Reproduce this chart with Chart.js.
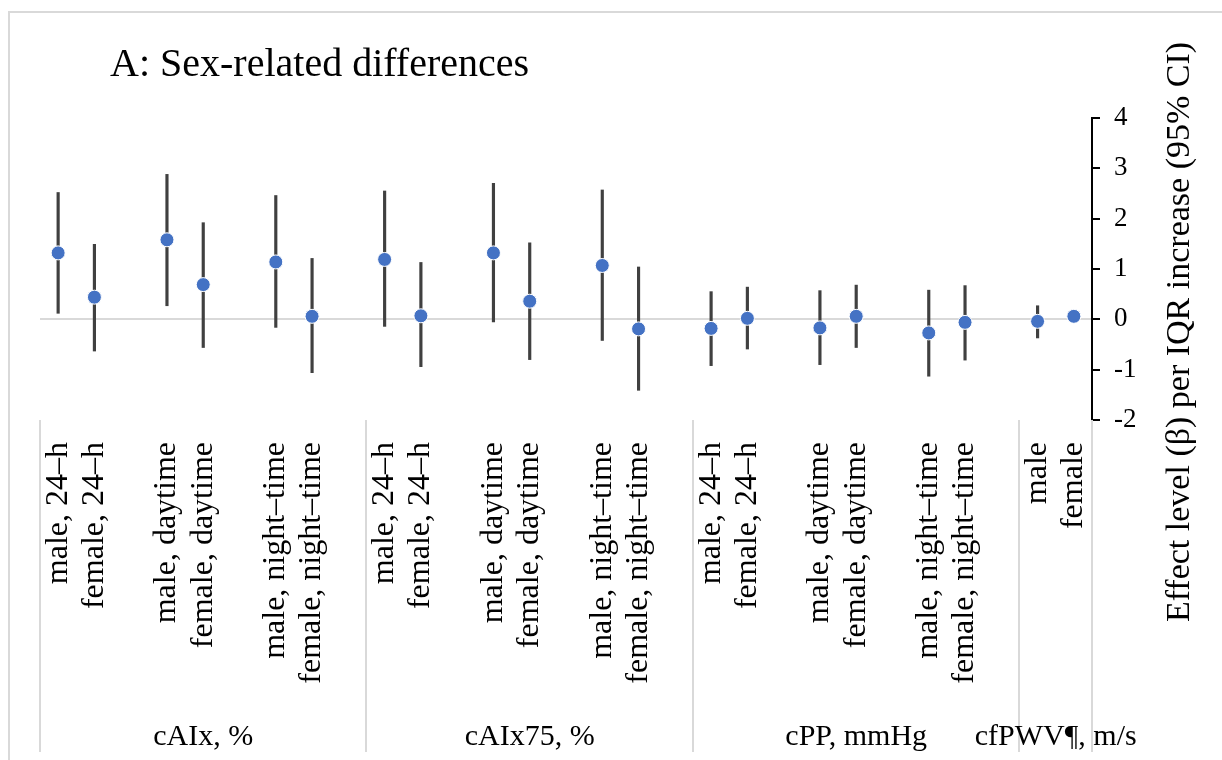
<!DOCTYPE html>
<html>
<head>
<meta charset="utf-8">
<script src="https://cdn.jsdelivr.net/npm/chart.js@4/dist/chart.umd.min.js"></script>
<style>
  html, body { margin: 0; padding: 0; background: #fff; }
  #wrap { position: relative; width: 1222px; height: 760px; }
</style>
</head>
<body>
<div id="wrap"><canvas id="forest"></canvas></div>
<script>
// categories (blank slots keep the gaps between the sub-groups)
const categories = [
    'male, 24–h', 'female, 24–h', '',
    'male, daytime', 'female, daytime', '',
    'male, night–time', 'female, night–time', '',
    'male, 24–h', 'female, 24–h', '',
    'male, daytime', 'female, daytime', '',
    'male, night–time', 'female, night–time', '',
    'male, 24–h', 'female, 24–h', '',
    'male, daytime', 'female, daytime', '',
    'male, night–time', 'female, night–time', '',
    'male', 'female'
];

// effect estimates (β) and 95% CI bounds
const beta = [
    1.32, 0.44, null, 1.58, 0.69, null, 1.14, 0.06, null,
    1.19, 0.07, null, 1.32, 0.36, null, 1.07, -0.19, null,
    -0.18, 0.02, null, -0.17, 0.06, null, -0.27, -0.06, null,
    -0.04, 0.06
];
const ciLow = [
    0.12, -0.63, null, 0.27, -0.56, null, -0.16, -1.06, null,
    -0.14, -0.94, null, -0.05, -0.80, null, -0.42, -1.41, null,
    -0.92, -0.59, null, -0.90, -0.56, null, -1.13, -0.81, null,
    -0.37, 0.02
];
const ciHigh = [
    2.52, 1.49, null, 2.88, 1.92, null, 2.46, 1.21, null,
    2.55, 1.13, null, 2.70, 1.52, null, 2.57, 1.04, null,
    0.55, 0.64, null, 0.57, 0.68, null, 0.58, 0.67, null,
    0.27, 0.10
];

// outcome groups along the x axis
const groupNames = ['cAIx, %', 'cAIx75, %', 'cPP, mmHg', 'cfPWV¶, m/s'];
const groupStart = [0, 9, 18, 27];
const groupEnd = [9, 18, 27, 29];

const yTicksMin = -2;
const yTicksMax = 4;

const SERIF = "'Liberation Serif', 'Times New Roman', serif";

const ciRanges = ciLow.map((lo, i) => lo === null ? null : [lo, ciHigh[i]]);

// frame, title, group labels, separators, y title
const decorations = {
    id: 'decorations',
    beforeDraw(chart) {
        const { ctx } = chart;
        ctx.save();
        ctx.strokeStyle = '#d9d9d9';
        ctx.lineWidth = 2;
        ctx.strokeRect(9, 12, chart.width + 20, chart.height + 20);
        ctx.restore();
    },
    afterDraw(chart) {
        const { ctx, scales: { x } } = chart;
        const area = chart.chartArea;
        ctx.save();

        ctx.fillStyle = '#000';
        ctx.font = '40px ' + SERIF;
        ctx.textAlign = 'left';
        ctx.textBaseline = 'alphabetic';
        ctx.fillText('A: Sex-related differences', 110, 76);

        // separators between groups
        ctx.strokeStyle = '#d9d9d9';
        ctx.lineWidth = 2;
        const bounds = groupStart.concat([groupEnd[groupEnd.length - 1]]);
        bounds.forEach(b => {
            const px = Math.round(x.getPixelForValue(b - 0.5));
            ctx.beginPath();
            ctx.moveTo(px, area.bottom);
            ctx.lineTo(px, x.bottom);
            ctx.stroke();
        });

        // group names
        ctx.fillStyle = '#000';
        ctx.font = '30px ' + SERIF;
        ctx.textAlign = 'center';
        groupNames.forEach((name, i) => {
            const cx = (x.getPixelForValue(groupStart[i] - 0.5) + x.getPixelForValue(groupEnd[i] - 0.5)) / 2;
            ctx.fillText(name, cx, x.bottom - 7);
        });

        // y axis title, reading bottom to top
        ctx.translate(1180, 332);
        ctx.rotate(-Math.PI / 2);
        ctx.font = '34px ' + SERIF;
        ctx.textBaseline = 'middle';
        ctx.fillText('Effect level (β) per IQR increase (95% CI)', 0, 0);
        ctx.restore();
    }
};

new Chart(document.getElementById('forest'), {
    type: 'bar',
    data: {
        labels: categories,
        datasets: [
            {
                type: 'line',
                label: 'β',
                data: beta,
                showLine: false,
                pointRadius: 7,
                pointHoverRadius: 7,
                pointBackgroundColor: '#4472C4',
                pointBorderColor: '#ffffff',
                pointBorderWidth: 1,
                order: 0
            },
            {
                type: 'bar',
                label: '95% CI',
                data: ciRanges,
                backgroundColor: '#404040',
                barThickness: 2.5,
                borderWidth: 0,
                order: 1
            }
        ]
    },
    options: {
        responsive: true,
        maintainAspectRatio: false,
        animation: false,
        layout: { padding: { left: 40, top: 118, right: 0, bottom: 8 } },
        scales: {
            x: {
                type: 'category',
                offset: true,
                grid: { display: false, drawTicks: false },
                border: { display: false },
                ticks: {
                    autoSkip: false,
                    minRotation: 90,
                    maxRotation: 90,
                    padding: 22,
                    color: '#000',
                    font: { family: SERIF, size: 32 }
                },
                afterFit: s => { s.height = 332; }
            },
            y: {
                position: 'right',
                min: yTicksMin,
                max: yTicksMax,
                border: { display: true, color: '#000', width: 2 },
                grid: {
                    color: c => c.tick && c.tick.value === 0 ? '#d9d9d9' : 'rgba(0,0,0,0)',
                    lineWidth: 2,
                    drawTicks: true,
                    tickLength: 8,
                    tickColor: '#000',
                    tickWidth: 2
                },
                ticks: {
                    stepSize: 1,
                    padding: 14,
                    color: '#000',
                    font: { family: SERIF, size: 27 }
                },
                afterFit: s => { s.width = 130; }
            }
        },
        plugins: {
            legend: { display: false },
            tooltip: { enabled: false }
        }
    },
    plugins: [decorations]
});
</script>
</body>
</html>
